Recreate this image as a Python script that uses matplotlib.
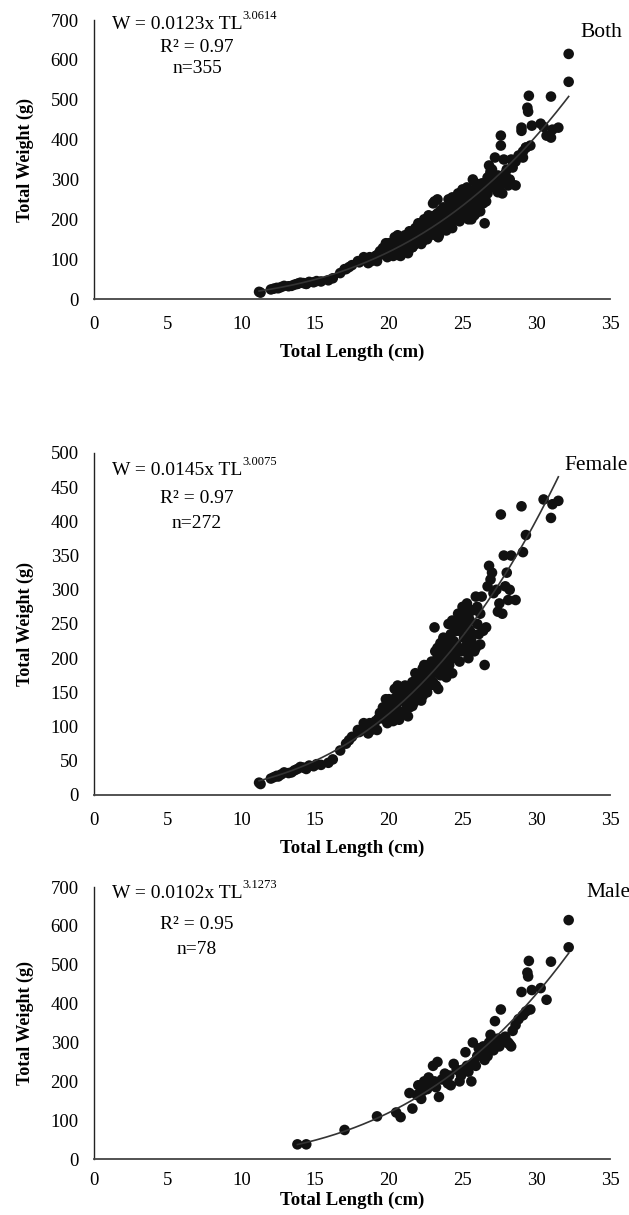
import numpy as np
import matplotlib.pyplot as plt

plt.rcParams['font.family'] = 'Liberation Serif'

# female length (cm) / weight (g)
female_tl = [11.2, 11.3, 12.0, 12.2, 12.5, 12.7, 12.9, 13.4, 13.6, 13.8, 14.0, 14.2, 14.6, 14.9,
             15.1, 15.4, 15.9, 16.7, 17.1, 17.3, 17.9, 18.3, 18.5, 18.6, 18.8, 19.0, 19.1, 19.3,
             19.4, 19.6, 19.7, 19.9, 20.0, 20.2, 20.3, 20.4, 20.5, 20.6, 20.7, 20.8, 20.9, 21.0,
             21.1, 21.2, 21.3, 21.4, 21.5, 21.6, 21.7, 21.8, 21.9, 22.0, 22.1, 22.2, 22.3, 22.4,
             22.5, 22.6, 22.7, 22.8, 22.9, 23.0, 23.1, 23.15, 23.2, 23.3, 23.35, 23.4, 23.5, 23.6,
             23.7, 23.8, 23.9, 24.0, 24.05, 24.1, 24.2, 24.3, 24.4, 24.5, 24.6, 24.7, 24.8, 24.9,
             25.0, 25.1, 25.2, 25.3, 25.35, 25.4, 25.5, 25.6, 25.7, 25.8, 25.9, 26.0, 26.1, 26.2,
             26.3, 26.5, 26.6, 26.7, 26.8, 26.9, 27.0, 27.1, 27.3, 27.4, 27.5, 27.6, 27.7, 27.8,
             27.9, 28.0, 28.1, 28.2, 28.3, 28.6, 29.0, 29.1, 29.3, 30.5, 31.0, 31.1, 31.5,
             21.2, 21.8, 22.4, 23.0, 23.6, 24.2, 24.8, 25.4, 20.1, 19.8, 20.6,
             19.5, 19.7, 20.0, 20.2, 20.3, 20.5, 20.7, 20.9, 21.0, 21.1, 21.3, 21.4, 21.5, 21.6,
             21.7, 21.9, 22.0, 22.1, 22.2, 22.3, 22.4, 22.5, 22.6, 22.7, 22.8, 22.9, 23.0, 23.1,
             23.2, 23.3, 23.4, 23.5, 23.6, 23.7, 23.8, 23.9, 24.0, 24.1, 24.2, 24.3, 24.4, 24.5,
             24.6, 24.7, 24.8, 24.9, 25.0, 25.1, 25.2, 25.3, 25.5, 25.6, 25.7, 25.9, 26.0, 26.2,
             26.4, 18.0, 18.7, 19.2, 17.5, 16.2, 14.4, 13.2, 12.4]
female_tw = [18, 16, 24, 26, 27, 30, 33, 33, 36, 38, 41, 40, 43, 42,
             45, 44, 47, 65, 75, 80, 95, 105, 100, 90, 95, 100, 108, 112,
             120, 128, 118, 105, 125, 115, 140, 155, 130, 150, 110, 138, 120, 155,
             145, 132, 115, 150, 160, 130, 150, 178, 142, 168, 155, 138, 185, 165,
             180, 150, 190, 170, 195, 178, 245, 210, 160, 200, 155, 185, 222, 195,
             210, 180, 172, 215, 250, 190, 235, 178, 205, 245, 220, 265, 195, 255,
             275, 230, 210, 280, 245, 200, 255, 225, 270, 210, 290, 250, 235, 220,
             290, 190, 245, 305, 335, 315, 325, 295, 300, 268, 280, 410, 265, 350,
             305, 325, 285, 300, 350, 285, 422, 355, 380, 432, 405, 425, 430,
             148, 160, 175, 190, 215, 200, 240, 260, 135, 140, 160,
             112, 125, 140, 128, 108, 118, 148, 142, 122, 160, 138, 128, 142, 165,
             135, 158, 148, 175, 160, 145, 190, 158, 172, 180, 160, 185, 165, 195,
             180, 215, 200, 175, 185, 230, 200, 220, 185, 230, 215, 255, 225, 200,
             240, 215, 255, 210, 245, 265, 230, 220, 240, 270, 235, 215, 275, 265,
             240, 92, 105, 95, 85, 52, 38, 32, 28]

# male length (cm) / weight (g)
male_tl = [13.8, 14.4, 17.0, 19.2, 20.5, 20.8, 21.4, 21.6, 22.0, 22.2, 22.4, 22.6, 22.7, 22.9,
           23.0, 23.2, 23.3, 23.4, 23.8, 24.0, 24.2, 24.4, 24.6, 24.8, 25.0, 25.2, 25.4, 25.6,
           25.7, 25.9, 26.0, 26.3, 26.5, 26.7, 26.9, 27.0, 27.2, 27.3, 27.6, 27.8, 28.0, 28.2,
           28.4, 28.6, 28.8, 29.0, 29.1, 29.3, 29.5, 29.4, 29.45, 29.6, 29.7, 30.3, 30.7, 31.0,
           32.2, 32.2, 26.1, 26.8, 27.4, 27.9, 28.3, 27.1, 26.4, 25.3, 24.1, 23.6, 22.5, 21.9,
           23.1, 22.3, 24.9, 25.8, 26.6, 27.5, 28.1, 22.8]
male_tw = [38, 38, 75, 110, 120, 108, 170, 130, 190, 155, 200, 180, 210, 195,
           240, 185, 250, 160, 220, 195, 190, 245, 230, 200, 230, 275, 225, 200,
           300, 240, 265, 280, 255, 265, 320, 290, 355, 300, 385, 310, 300, 295,
           330, 345, 360, 430, 370, 380, 510, 480, 470, 385, 435, 440, 410, 508,
           615, 545, 285, 300, 310, 315, 290, 280, 290, 240, 215, 205, 185, 165,
           200, 175, 215, 250, 275, 290, 300, 190]

both_tl = female_tl + male_tl
both_tw = female_tw + male_tw

names = ['Both', 'Female', 'Male']
coef_a = [0.0123, 0.0145, 0.0102]
coef_b = [3.0614, 3.0075, 3.1273]
r2 = ['0.97', '0.97', '0.95']
n = [355, 272, 78]
y_max = [700, 500, 700]
y_step = [100, 50, 100]

fig = plt.figure(figsize=(6.29, 12.15), dpi=100)
axes_pos = [[0.1494, 0.7539, 0.8203, 0.2296],
            [0.1494, 0.3457, 0.8203, 0.2815],
            [0.1494, 0.0460, 0.8203, 0.2239]]
text_y = [[0.985, 0.903, 0.827], [0.95, 0.868, 0.795], [0.978, 0.861, 0.77]]
name_xy = [(0.989, 0.981), (0.998, 0.625), (1.003, 0.273)]
xtick_pad = [12, 12, 9]
xlabel_pad = [8, 8, 2]
data = [(both_tl, both_tw), (female_tl, female_tw), (male_tl, male_tw)]

for i in range(3):
    ax = fig.add_axes(axes_pos[i])
    x, y = data[i]
    ax.scatter(x, y, s=58, color='#111111', edgecolors='none', zorder=2)
    xf = np.linspace(min(x), max(x), 200)
    ax.plot(xf, coef_a[i] * xf ** coef_b[i], color='#333333', lw=1.2, zorder=3)

    ax.set_xlim(0, 35)
    ax.set_ylim(0, y_max[i])
    ax.set_xticks(range(0, 36, 5))
    ax.set_yticks(range(0, y_max[i] + 1, y_step[i]))
    ax.tick_params(length=0, labelsize=13.5)
    ax.tick_params(axis='x', pad=xtick_pad[i])
    ax.tick_params(axis='y', pad=11)
    for s in ['top', 'right']:
        ax.spines[s].set_visible(False)
    ax.spines['left'].set_color('#222222')
    ax.spines['bottom'].set_color('#444444')
    ax.spines['left'].set_linewidth(1.0)
    ax.spines['bottom'].set_linewidth(1.3)
    ax.set_xlabel('Total Length (cm)', fontsize=13.5, fontweight='bold', labelpad=xlabel_pad[i])
    ax.set_ylabel('Total Weight (g)', fontsize=13, fontweight='bold', labelpad=12)

    ty = text_y[i]
    eq = ax.text(0.035, ty[0], 'W = %.4fx TL' % coef_a[i], transform=ax.transAxes,
                 ha='left', va='center', fontsize=14)
    ax.annotate('%.4f' % coef_b[i], xy=(1.0, 0.62), xycoords=eq,
                ha='left', va='bottom', fontsize=9)
    ax.text(0.2, ty[1], 'R² = ' + r2[i], transform=ax.transAxes,
            ha='center', va='center', fontsize=14)
    ax.text(0.2, ty[2], 'n=%d' % n[i], transform=ax.transAxes,
            ha='center', va='center', fontsize=14)
    fig.text(name_xy[i][0], name_xy[i][1], names[i], ha='right', va='top', fontsize=15.5)

fig.savefig('out.png', dpi=100)
